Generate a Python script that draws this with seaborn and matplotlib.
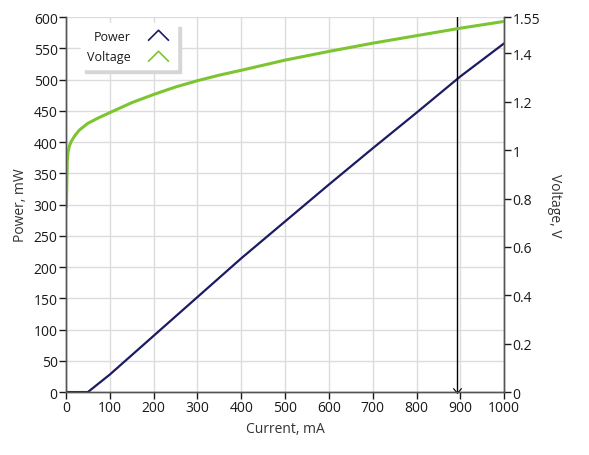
import numpy as np
import pandas as pd
import seaborn as sns
import matplotlib.pyplot as plt
from matplotlib.path import Path
from matplotlib.lines import Line2D

# Power curve, mW vs current, mA
power_current = [0, 50, 100, 200, 300, 400, 500, 600, 700, 800, 900, 1000]
power_mw = [0, 0, 28, 90, 152, 214, 273, 332, 390, 447, 505, 558]

# Voltage curve, V vs current, mA
voltage_current = [1, 2, 3, 5, 8, 12, 20, 30, 50, 75, 100, 150, 200, 250, 300, 350,
                   400, 450, 500, 600, 700, 800, 900, 1000]
voltage_v = [0.765, 0.865, 0.956, 0.995, 1.018, 1.036, 1.059, 1.082, 1.111, 1.134,
             1.155, 1.196, 1.230, 1.261, 1.287, 1.310, 1.330, 1.351, 1.372, 1.408,
             1.442, 1.473, 1.504, 1.532]

cursor_current = 892

power_df = pd.DataFrame({"current": power_current, "power": power_mw})
voltage_df = pd.DataFrame({"current": voltage_current, "voltage": voltage_v})

power_color = "#1b1b63"
voltage_color = "#7cc531"
text_color = "#1a1a1a"
spine_color = "#555555"

sns.set_theme(style="whitegrid")
plt.rcParams["font.family"] = ["Open Sans", "DejaVu Sans"]
plt.rcParams.update({
    "xtick.bottom": True, "ytick.left": True,
    "xtick.major.size": 5, "ytick.major.size": 5,
    "xtick.major.width": 1, "ytick.major.width": 1,
    "xtick.color": text_color, "ytick.color": text_color,
})

fig = plt.figure(figsize=(5.89, 4.56), dpi=100)
ax = fig.add_axes([0.112, 0.138, 0.744, 0.8224])
ax2 = ax.twinx()

sns.lineplot(data=voltage_df, x="current", y="voltage", ax=ax2, color=voltage_color,
             lw=2.2, legend=False)
sns.lineplot(data=power_df, x="current", y="power", ax=ax, color=power_color,
             lw=1.6, legend=False)

# cursor
ax.axvline(cursor_current, color="black", lw=1, zorder=5)
down_chev = Path([(-1, 1), (0, -0.2), (1, 1)], [Path.MOVETO, Path.LINETO, Path.LINETO])
ax.plot([cursor_current], [0], marker=down_chev, ms=6, mfc="none", mec="black",
        mew=0.8, clip_on=False, zorder=6, ls="none")

ax.set_xlim(0, 1000)
ax.set_ylim(0, 600)
ax2.set_ylim(0, 1.55)
ax.set_xticks(np.arange(0, 1001, 100))
ax.set_yticks(np.arange(0, 601, 50))
ax2.set_yticks(list(np.round(np.arange(0, 1.41, 0.2), 2)) + [1.55])
ax2.set_yticklabels(["0", "0.2", "0.4", "0.6", "0.8", "1", "1.2", "1.4", "1.55"])

ax.grid(True, color="#dcdcdc", lw=1)
ax2.grid(False)
ax.set_facecolor("white")

ax.tick_params(axis="x", bottom=True)
ax.tick_params(axis="y", left=True, right=False)
ax2.tick_params(axis="y", right=True, left=False)
for a in (ax, ax2):
    a.tick_params(axis="both", direction="out", length=5, width=1, color=text_color,
                  labelsize=10, labelcolor=text_color, pad=1)
    for s in a.spines.values():
        s.set_color(spine_color)
        s.set_linewidth(1)
    a.spines["top"].set_visible(False)

ax.set_xlabel("Current, mA", fontsize=10, color="#333333", labelpad=4)
ax.set_ylabel("Power, mW", fontsize=10, color="#333333", labelpad=4)
ax2.set_ylabel("Voltage, V", fontsize=10, color="#333333", rotation=270, labelpad=16)

up_chev = Path([(-1, -0.5), (0, 0.5), (1, -0.5)], [Path.MOVETO, Path.LINETO, Path.LINETO])
handles = [
    Line2D([], [], ls="none", marker=up_chev, ms=15, mfc="none", mec=power_color, mew=1.2),
    Line2D([], [], ls="none", marker=up_chev, ms=15, mfc="none", mec=voltage_color, mew=1.2),
]
leg = ax2.legend(handles, ["Power", "Voltage"], loc="upper left", markerfirst=False,
                 bbox_to_anchor=(0.02, 1.0), fontsize=9, frameon=True,
                 shadow={"color": "#d6d6d6", "alpha": 1, "ox": 3, "oy": -3},
                 fancybox=False, handletextpad=1.2, borderpad=0.5, labelspacing=0.6)
leg.get_frame().set_edgecolor("white")
leg.get_frame().set_facecolor("white")
for t in leg.get_texts():
    t.set_color(text_color)

fig.savefig("out.png", dpi=100)
